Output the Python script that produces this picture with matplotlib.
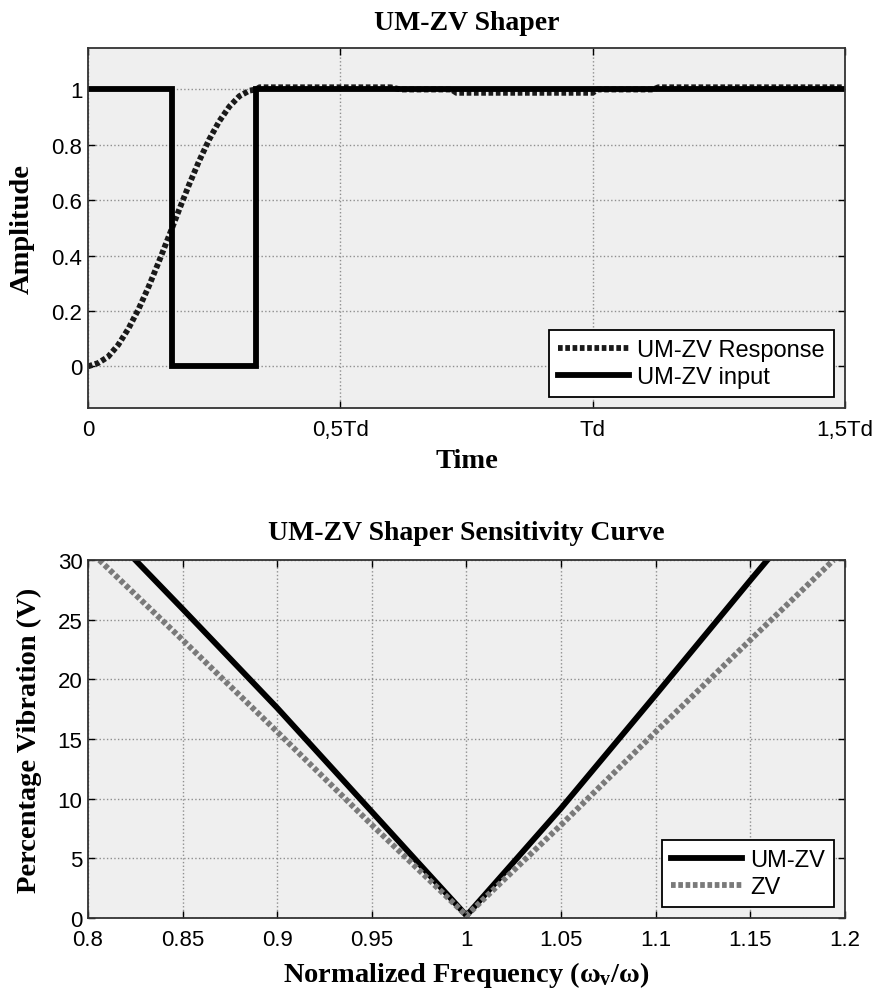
import matplotlib
matplotlib.use("Agg")
import matplotlib.pyplot as plt

plt.rcParams["mathtext.fontset"] = "custom"
plt.rcParams["mathtext.rm"] = "Liberation Serif:bold"
plt.rcParams["mathtext.it"] = "Liberation Serif:bold"
plt.rcParams["mathtext.bf"] = "Liberation Serif:bold"

# ---- Top panel data (time in units of Td) ----
input_t = [0, 0.1667, 0.1667, 0.3333, 0.3333, 1.5]
input_amp = [1, 1, 0, 0, 1, 1]

resp_t = [0, 0.02, 0.04, 0.06, 0.08, 0.10, 0.12, 0.14, 0.1667, 0.18, 0.20, 0.22,
          0.24, 0.26, 0.28, 0.30, 0.32, 0.3333, 0.34, 0.60, 0.62, 0.72, 0.73, 1.0,
          1.01, 1.12, 1.13, 1.5]
resp_amp = [0, 0.012, 0.035, 0.078, 0.136, 0.206, 0.287, 0.376, 0.5, 0.563, 0.655,
            0.741, 0.819, 0.885, 0.938, 0.976, 0.996, 1.0, 1.008, 1.008, 1.0, 1.0,
            0.988, 0.988, 1.0, 1.0, 1.008, 1.008]

top_xticks = [0, 0.5, 1.0, 1.5]
top_xticklabels = ["0", "0,5Td", "Td", "1,5Td"]
top_yticks = [0, 0.2, 0.4, 0.6, 0.8, 1.0]
top_yticklabels = ["0", "0.2", "0.4", "0.6", "0.8", "1"]

# ---- Bottom panel data ----
umzv_freq = [0.825, 0.85, 0.90, 0.95, 1.0, 1.05, 1.10, 1.15, 1.159]
umzv_vib = [30.0, 25.9, 17.6, 8.9, 0.2, 9.2, 18.7, 28.3, 30.0]
zv_freq = [0.806, 0.85, 0.90, 0.95, 1.0, 1.05, 1.10, 1.15, 1.194]
zv_vib = [30.0, 23.3, 15.6, 7.8, 0.2, 7.8, 15.6, 23.3, 30.0]

bot_xticks = [0.8, 0.85, 0.9, 0.95, 1.0, 1.05, 1.1, 1.15, 1.2]
bot_xticklabels = ["0.8", "0.85", "0.9", "0.95", "1", "1.05", "1.1", "1.15", "1.2"]
bot_yticks = [0, 5, 10, 15, 20, 25, 30]

sans = ["Liberation Sans", "DejaVu Sans"]
serif = ["Liberation Serif", "DejaVu Serif"]

fig = plt.figure(figsize=(8.78, 9.95), dpi=100)
fig.patch.set_facecolor("white")

ax1 = fig.add_axes([0.1002, 0.589, 0.8622, 0.3618])
ax2 = fig.add_axes([0.1002, 0.0764, 0.8622, 0.3598])

dotted = (0, (0.8, 0.45))
LW = 4.2
TICK_FS = 16
LABEL_FS = 20.5
TITLE_FS = 20
LEG_FS = 17

for ax in (ax1, ax2):
    ax.set_facecolor("#efefef")
    ax.grid(True, linestyle=":", color="#8f8f8f", linewidth=1.0)
    ax.set_axisbelow(True)
    ax.tick_params(direction="in", top=True, right=True, length=5, width=1,
                   labelsize=TICK_FS)
    ax.tick_params(axis="x", pad=8)
    ax.tick_params(axis="y", pad=4)
    for s in ax.spines.values():
        s.set_linewidth(1.3)
        s.set_color("#333333")

# Top panel
ax1.plot(resp_t, resp_amp, color="#1a1a1a", linewidth=LW, linestyle=dotted,
         label="UM-ZV Response")
ax1.plot(input_t, input_amp, color="black", linewidth=LW, solid_joinstyle="miter",
         label="UM-ZV input")
ax1.set_xlim(0, 1.5)
ax1.set_ylim(-0.15, 1.15)
ax1.set_xticks(top_xticks)
ax1.set_xticklabels(top_xticklabels, family=sans)
ax1.set_yticks(top_yticks)
ax1.set_yticklabels(top_yticklabels, family=sans)
ax1.text(0.5, 1.072, "UM-ZV Shaper", transform=ax1.transAxes, ha="center",
         va="center", family=serif, fontweight="bold", fontsize=TITLE_FS)
xl1 = ax1.set_xlabel("Time", family=serif, fontweight="bold", fontsize=LABEL_FS)
ax1.xaxis.set_label_coords(0.5, -0.147)
xl1.set_va("center")
yl1 = ax1.set_ylabel("Amplitude", family=serif, fontweight="bold", fontsize=LABEL_FS)
ax1.yaxis.set_label_coords(-0.087, 0.5)
yl1.set_va("center")
leg1 = ax1.legend(loc="lower right", prop={"family": sans, "size": LEG_FS},
                  handlelength=3.0, fancybox=False, framealpha=1,
                  edgecolor="black", borderaxespad=0.45, labelspacing=0.2,
                  handletextpad=0.35, borderpad=0.4)
leg1.get_frame().set_linewidth(1.3)

# Bottom panel
ax2.plot(umzv_freq, umzv_vib, color="black", linewidth=LW, label="UM-ZV")
ax2.plot(zv_freq, zv_vib, color="#7a7a7a", linewidth=LW, linestyle=dotted, label="ZV")
ax2.set_xlim(0.8, 1.2)
ax2.set_ylim(0, 30)
ax2.set_xticks(bot_xticks)
ax2.set_xticklabels(bot_xticklabels, family=sans)
ax2.set_yticks(bot_yticks)
ax2.set_yticklabels([str(v) for v in bot_yticks], family=sans)
ax2.text(0.5, 1.078, "UM-ZV Shaper Sensitivity Curve", transform=ax2.transAxes,
         ha="center", va="center", family=serif, fontweight="bold", fontsize=TITLE_FS)
xl2 = ax2.set_xlabel(r"Normalized Frequency ($\omega_{v}$/$\omega$)", family=serif,
                     fontweight="bold", fontsize=LABEL_FS)
ax2.xaxis.set_label_coords(0.5, -0.156)
xl2.set_va("center")
yl2 = ax2.set_ylabel("Percentage Vibration (V)", family=serif, fontweight="bold",
                     fontsize=LABEL_FS)
ax2.yaxis.set_label_coords(-0.077, 0.5)
yl2.set_va("center")
leg2 = ax2.legend(loc="lower right", prop={"family": sans, "size": LEG_FS},
                  handlelength=3.0, fancybox=False, framealpha=1,
                  edgecolor="black", borderaxespad=0.45, labelspacing=0.2,
                  handletextpad=0.35, borderpad=0.4)
leg2.get_frame().set_linewidth(1.3)

fig.savefig("out.png", dpi=100, facecolor="white")
